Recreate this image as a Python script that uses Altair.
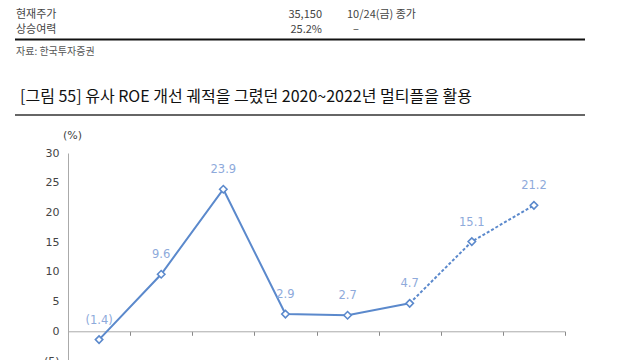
import altair as alt
import pandas as pd

# ---- data ----
categories = ["2018", "2019", "2020", "2021", "2022", "2023", "2024F", "2025F"]
roe_values = [-1.4, 9.6, 23.9, 2.9, 2.7, 4.7, 15.1, 21.2]
segments = ["actual", "actual", "actual", "actual", "actual", "actual", "forecast", "forecast"]
y_ticks = [-5, 0, 5, 10, 15, 20, 25, 30]

labels = [f"({abs(v):.1f})" if v < 0 else f"{v:.1f}" for v in roe_values]

df = pd.DataFrame({"cat": categories, "roe": roe_values, "label": labels, "seg": segments})
df["idx"] = range(len(df))

# solid line: points 0..5 ; dashed line: points 5..7
solid_df = df[df["idx"] <= 5]
dash_df = df[df["idx"] >= 5]

W, H = 497, 208
LINE = "#5b89cc"
LABEL = "#8eaadb"
NUM_FONT = "DejaVu Sans"
KR_FONT = "Noto Sans CJK KR"

x_enc = alt.X(
    "cat:N",
    sort=categories,
    bandPosition=0.5,
    scale=alt.Scale(type="band", paddingInner=0, paddingOuter=0),
    axis=alt.Axis(
        title=None, labels=False, tickBand="extent", tickSize=4,
        tickColor="#888", domainColor="#aaa", offset=-H * 5 / 35, grid=False,
    ),
)
y_enc = alt.Y(
    "roe:Q",
    scale=alt.Scale(domain=[-5, 30], nice=False, zero=False),
    axis=alt.Axis(
        values=y_ticks, title="(%)", titleAngle=0, titleX=4, titleY=-18,
        titleAlign="center", titleBaseline="middle", titleFontWeight="normal",
        titleFontSize=11, titleFont=NUM_FONT, titleColor="#444",
        labelFont=NUM_FONT, labelFontSize=11, labelColor="#444",
        labelExpr="datum.value < 0 ? '(' + abs(datum.value) + ')' : datum.label",
        ticks=False, labelPadding=9, domainColor="#aaa", grid=False,
    ),
)

solid = alt.Chart(solid_df).mark_line(color=LINE, strokeWidth=2).encode(x=x_enc, y=y_enc)
dashed = alt.Chart(dash_df).mark_line(color=LINE, strokeWidth=2, strokeDash=[3, 2]).encode(x=x_enc, y=y_enc)
points = alt.Chart(df).mark_point(
    shape="diamond", filled=True, fill="white", stroke=LINE, strokeWidth=1.6, size=55, opacity=1
).encode(x=x_enc, y=y_enc)
texts = alt.Chart(df).mark_text(
    dy=-19, color=LABEL, font=NUM_FONT, fontSize=11.5
).encode(x=x_enc, y=y_enc, text="label:N")

one = pd.DataFrame({"a": [0]})


def txt(s, x, y, size=11, color="#444", align="left", weight="normal", baseline="middle"):
    return alt.Chart(one).mark_text(
        font=KR_FONT, fontSize=size, color=color, align=align, baseline=baseline, fontWeight=weight
    ).encode(x=alt.value(x), y=alt.value(y), text=alt.value(s))


def rule(x1, x2, y, color, width):
    return alt.Chart(one).mark_rule(color=color, strokeWidth=width).encode(
        x=alt.value(x1), x2=alt.value(x2), y=alt.value(y)
    )


header = [
    txt("현재주가", -52, -144, baseline="top"),
    txt("35,150", 254, -144, align="right", baseline="top"),
    txt("10/24(금) 종가", 279, -144, baseline="top"),
    txt("상승여력", -52, -123),
    txt("25.2%", 254, -123, align="right"),
    txt("–", 285, -123),
    rule(-53, 517, -113.5, "#111", 2),
    txt("자료: 한국투자증권", -52, -101, size=10, color="#555"),
    txt("[그림 55] 유사 ROE 개선 궤적을 그렸던 2020~2022년 멀티플을 활용", -48, -56, size=16, color="#111"),
    rule(-53, 517, -38, "#333", 1.5),
]

chart = alt.layer(solid, dashed, points, texts, *header).properties(
    width=W, height=H,
    autosize=alt.AutoSizeParams(type="none"),
    padding={"left": 60, "top": 145, "right": 60, "bottom": 20},
).configure_view(stroke=None)

chart.save("out.html", embed_options={"renderer": "svg", "actions": False})
